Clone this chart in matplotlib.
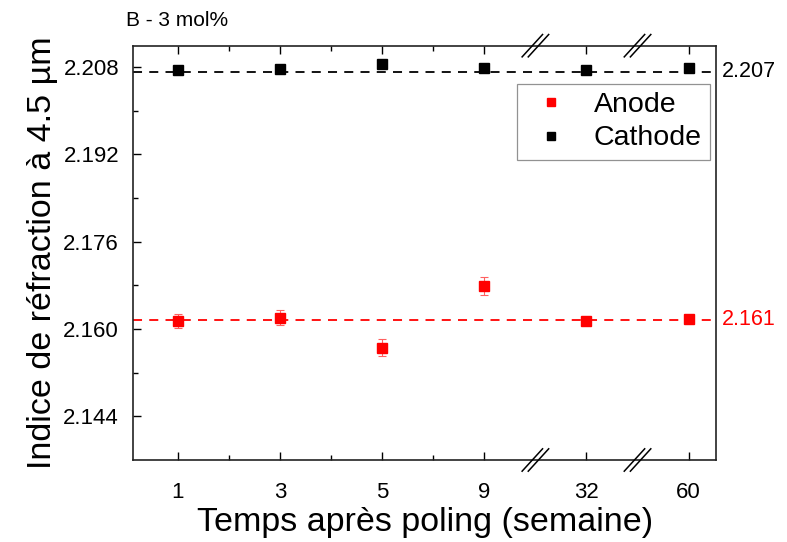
import numpy as np
import matplotlib
matplotlib.use("Agg")
import matplotlib.pyplot as plt
from matplotlib.lines import Line2D

plt.rcParams['font.family'] = ['Liberation Sans', 'DejaVu Sans']

weeks = ["1", "3", "5", "9", "32", "60"]
anode = [2.1615, 2.1621, 2.1566, 2.1679, 2.1615, 2.1618]
anode_err = [0.0013, 0.0013, 0.0015, 0.0017, 0.0005, 0.0003]
cathode = [2.2075, 2.2077, 2.2086, 2.2078, 2.2074, 2.2079]
anode_mean = 2.1617
cathode_mean = 2.2071
anode_label = "2.161"
cathode_label = "2.207"
yticks = [2.144, 2.160, 2.176, 2.192, 2.208]

fig = plt.figure(figsize=(7.87, 5.42), dpi=100)
ax = fig.add_axes([0.169, 0.1513, 0.741, 0.7644])

x = np.arange(len(weeks))
ax.axhline(cathode_mean, color='black', ls=(0, (5, 4)), lw=1.3, zorder=1)
ax.axhline(anode_mean, color='red', ls=(0, (5, 4)), lw=1.3, zorder=1)

ax.errorbar(x, anode, yerr=anode_err, fmt='s', color='red', ms=6.5,
            ecolor='#ff6060', elinewidth=0.8, capsize=3, capthick=0.8,
            zorder=3)
ax.plot(x, cathode, 's', color='black', ms=6.5, zorder=3)

ax.set_xlim(-0.44, 5.27)
ax.set_ylim(2.136, 2.2119)
ax.set_xticks(x)
ax.set_xticklabels(weeks)
ax.set_xticks([0.5, 1.5, 2.5], minor=True)
ax.set_yticks(yticks)
ax.set_yticklabels([f"{v:.3f}" for v in yticks])
ax.set_yticks([2.152, 2.168, 2.184, 2.200], minor=True)
ax.tick_params(which='both', direction='in', top=True, right=False,
               labelsize=16, width=1)
ax.tick_params(which='major', length=6)
ax.tick_params(which='minor', length=3.5)
ax.tick_params(axis='x', which='major', pad=16)
ax.tick_params(axis='y', which='major', pad=10)
for s in ax.spines.values():
    s.set_linewidth(1.2)
    s.set_color('#222222')

ax.set_xlabel("Temps après poling (semaine)", fontsize=24.5, labelpad=3)
ax.set_ylabel("Indice de réfraction à 4.5 µm", fontsize=24.5, labelpad=4)

ax.text(1.01, cathode_mean, cathode_label, transform=ax.get_yaxis_transform(),
        va='center', ha='left', fontsize=15.5, color='black')
ax.text(1.01, anode_mean, anode_label, transform=ax.get_yaxis_transform(),
        va='center', ha='left', fontsize=15.5, color='red')
fig.text(0.16, 0.962, "B - 3 mol%", fontsize=15, ha='left', va='center')

handles = [Line2D([], [], ls='none', marker='s', color='red', ms=5.5),
           Line2D([], [], ls='none', marker='s', color='black', ms=5.5)]
leg = ax.legend(handles, ["Anode", "Cathode"], loc='upper left',
                bbox_to_anchor=(0.658, 0.908), fontsize=20.5,
                frameon=True, fancybox=False, edgecolor='#777777',
                handletextpad=0.6, borderpad=0.3, labelspacing=0.25,
                handlelength=1.8, borderaxespad=0)
leg.get_frame().set_linewidth(0.9)

# axis break marks
for xb in [3.5, 4.5]:
    for yb in [0.0, 1.0]:
        for dx in [-0.03, 0.03]:
            ax.plot([xb + dx - 0.1, xb + dx + 0.1], [yb - 0.027, yb + 0.027],
                    color='black', lw=1.1, clip_on=False,
                    transform=ax.get_xaxis_transform(), zorder=5)

fig.savefig("out.png", dpi=100)
